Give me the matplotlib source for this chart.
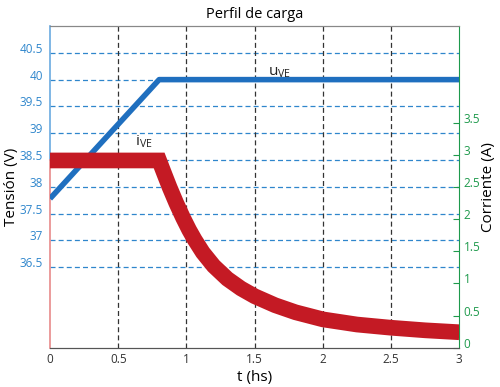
import matplotlib
matplotlib.use("Agg")
import matplotlib.pyplot as plt

plt.rcParams['font.family'] = ['Open Sans', 'DejaVu Sans']
plt.rcParams['mathtext.fontset'] = 'custom'
plt.rcParams['mathtext.rm'] = 'Open Sans'

# Data
t_volt = [0.0, 0.8, 3.0]
u_ve = [37.78, 40.0, 40.0]

t_curr = [0.0, 0.8, 0.84, 0.877, 0.925, 0.975, 1.02, 1.06, 1.12, 1.2, 1.3, 1.4, 1.5,
          1.65, 1.8, 2.0, 2.25, 2.5, 2.75, 3.0]
i_ve = [2.91, 2.91, 2.69, 2.49, 2.25, 2.02, 1.83, 1.68, 1.48, 1.27, 1.07, 0.92, 0.80,
        0.66, 0.55, 0.44, 0.36, 0.31, 0.27, 0.24]

x_ticks = [0, 0.5, 1, 1.5, 2, 2.5, 3]
x_ticklabels = ['0', '0.5', '1', '1.5', '2', '2.5', '3']
v_ticks = [36.5, 37, 37.5, 38, 38.5, 39, 39.5, 40, 40.5]
v_ticklabels = ['36.5', '37', '37.5', '38', '38.5', '39', '39.5', '40', '40.5']
a_ticks = [0, 0.5, 1, 1.5, 2, 2.5, 3, 3.5]
a_ticklabels = ['0', '0.5', '1', '1.5', '2', '2.5', '3', '3.5']

BLUE = '#1f6fbf'
LBLUE = '#2f86cc'
RED = '#c41a24'
GREEN = '#1e9a4c'

fig = plt.figure(figsize=(5, 3.87), dpi=100)
ax = fig.add_axes([0.1, 0.1016, 0.8186, 0.8312])
ax2 = ax.twinx()

ax.set_xlim(0, 3)
ax.set_ylim(35, 41)
ax2.set_ylim(0, 5)

# grid
for v in v_ticks:
    ax.axhline(v, color=LBLUE, lw=0.9, ls=(0, (4, 2.5)), zorder=1)
for x in x_ticks[1:-1]:
    ax.axvline(x, color='#333333', lw=0.9, ls=(0, (4, 2.5)), zorder=1)

# voltage line
ax.plot(t_volt, u_ve, color=BLUE, lw=4.0, solid_capstyle='butt', zorder=3)

# current band
ax2.plot(t_curr, i_ve, color=RED, lw=11.3, solid_capstyle='butt', solid_joinstyle='miter', zorder=3)

# spines
ax.spines['left'].set_visible(False)
ax2.spines['left'].set_visible(False)
ax.spines['top'].set_color('#888888')
ax2.spines['top'].set_color('#888888')
ax.spines['bottom'].set_color('#555555')
ax2.spines['bottom'].set_color('#555555')
ax.spines['right'].set_visible(False)
ax2.spines['right'].set_color(GREEN)
ax.plot([0, 0], [38.5, 41], transform=ax.get_yaxis_transform(), color='#6aaae0', lw=1.2, clip_on=False, zorder=2)
ax.plot([0, 0], [35, 38.5], transform=ax.get_yaxis_transform(), color='#e88a8a', lw=1.2, clip_on=False, zorder=2)

# ticks
ax.set_xticks(x_ticks)
ax.set_xticklabels(x_ticklabels, fontsize=8.5, color='#333333')
ax.set_yticks(v_ticks)
ax.set_yticklabels(v_ticklabels, fontsize=8.5, color=LBLUE)
ax.tick_params(axis='x', length=0, pad=4)
ax.tick_params(axis='y', length=0, pad=5)
for lab in ax.get_yticklabels():
    lab.set_va('baseline')

ax2.set_yticks(a_ticks)
ax2.set_yticklabels(a_ticklabels, fontsize=8.5, color=GREEN)
ax2.tick_params(axis='y', direction='in', length=4, color=GREEN, pad=3)
for lab in ax2.get_yticklabels():
    lab.set_va('baseline')

# labels
ax.set_title('Perfil de carga', fontsize=10.5, pad=6)
ax.set_xlabel('t (hs)', fontsize=11, labelpad=3)
ax.set_ylabel('Tensión (V)', fontsize=11)
ax.yaxis.set_label_coords(-0.076, 0.5)
ax2.set_ylabel('Corriente (A)', fontsize=11, rotation=90)
ax2.yaxis.set_label_coords(1.052, 0.5)

ax.text(1.6, 40.08, r'u$_{\mathrm{VE}}$', fontsize=11, color='#222222', va='baseline')
ax.text(0.62, 38.78, r'i$_{\mathrm{VE}}$', fontsize=11, color='#222222', va='baseline')

fig.savefig('out.png', dpi=100)
